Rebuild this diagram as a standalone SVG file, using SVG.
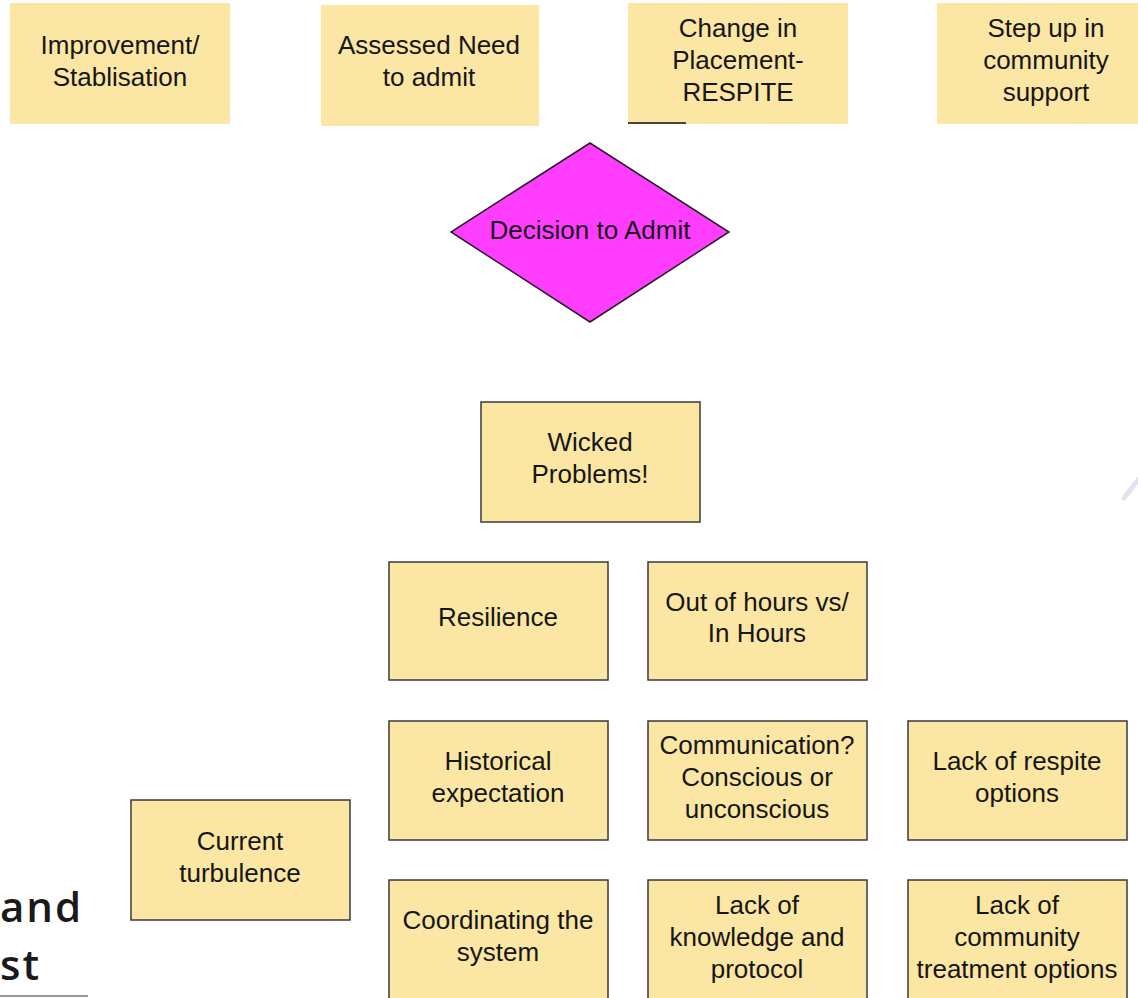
<svg xmlns="http://www.w3.org/2000/svg" width="1138" height="998" viewBox="0 0 1138 998">
  <style>
    .note { fill: #fbe6a3; }
    .box { fill: #fbe6a3; stroke: #3a3a3a; stroke-width: 1.5; }
    .decision { fill: #ff3dff; stroke: #2a1a2a; stroke-width: 1.5; }
    .label { font-family: "Liberation Sans", Arial, sans-serif; font-size: 26px; fill: #161616; text-anchor: middle; }
    .caption { font-family: "Open Sans", "DejaVu Sans", sans-serif; font-size: 42px; font-weight: 600; letter-spacing: 2px; fill: #1a1a1a; }
  </style>
  <rect width="1138" height="998" fill="#ffffff"/>

  <!-- outcome notes along the top -->
  <g id="improvement">
    <rect class="note" x="10" y="3" width="220" height="121"/>
    <text class="label" x="120" y="54">Improvement/</text>
    <text class="label" x="120" y="86">Stablisation</text>
  </g>
  <g id="assessed-need">
    <rect class="note" x="321" y="5" width="218" height="121"/>
    <text class="label" x="429" y="54">Assessed Need</text>
    <text class="label" x="429" y="86">to admit</text>
  </g>
  <g id="change-placement">
    <rect class="note" x="628" y="3" width="220" height="121"/>
    <line x1="628" y1="123" x2="686" y2="123" stroke="#444" stroke-width="2"/>
    <text class="label" x="738" y="37">Change in</text>
    <text class="label" x="738" y="69">Placement-</text>
    <text class="label" x="738" y="101">RESPITE</text>
  </g>
  <g id="step-up">
    <rect class="note" x="937" y="3" width="220" height="121"/>
    <text class="label" x="1046" y="37">Step up in</text>
    <text class="label" x="1046" y="69">community</text>
    <text class="label" x="1046" y="101">support</text>
  </g>

  <!-- central decision -->
  <g id="decision">
    <polygon class="decision" points="590,143 729,232 590,322 451,232"/>
    <text class="label" x="590" y="239">Decision to Admit</text>
  </g>

  <g id="wicked-problems">
    <rect class="box" x="481" y="402" width="219" height="120"/>
    <text class="label" x="590" y="451">Wicked</text>
    <text class="label" x="590" y="483">Problems!</text>
  </g>

  <g id="resilience">
    <rect class="box" x="389" y="562" width="219" height="118"/>
    <text class="label" x="498" y="626">Resilience</text>
  </g>
  <g id="out-of-hours">
    <rect class="box" x="648" y="562" width="219" height="118"/>
    <text class="label" x="757" y="611">Out of hours vs/</text>
    <text class="label" x="757" y="642">In Hours</text>
  </g>

  <g id="historical-expectation">
    <rect class="box" x="389" y="721" width="219" height="119"/>
    <text class="label" x="498" y="770">Historical</text>
    <text class="label" x="498" y="802">expectation</text>
  </g>
  <g id="communication">
    <rect class="box" x="648" y="721" width="219" height="119"/>
    <text class="label" x="757" y="754">Communication?</text>
    <text class="label" x="757" y="786">Conscious or</text>
    <text class="label" x="757" y="818">unconscious</text>
  </g>
  <g id="lack-respite">
    <rect class="box" x="908" y="721" width="219" height="119"/>
    <text class="label" x="1017" y="770">Lack of respite</text>
    <text class="label" x="1017" y="802">options</text>
  </g>

  <g id="current-turbulence">
    <rect class="box" x="131" y="800" width="219" height="120"/>
    <text class="label" x="240" y="850">Current</text>
    <text class="label" x="240" y="882">turbulence</text>
  </g>

  <g id="coordinating">
    <rect class="box" x="389" y="880" width="219" height="130"/>
    <text class="label" x="498" y="929">Coordinating the</text>
    <text class="label" x="498" y="961">system</text>
  </g>
  <g id="lack-knowledge">
    <rect class="box" x="648" y="880" width="219" height="130"/>
    <text class="label" x="757" y="914">Lack of</text>
    <text class="label" x="757" y="946">knowledge and</text>
    <text class="label" x="757" y="978">protocol</text>
  </g>
  <g id="lack-community">
    <rect class="box" x="908" y="880" width="219" height="130"/>
    <text class="label" x="1017" y="914">Lack of</text>
    <text class="label" x="1017" y="946">community</text>
    <text class="label" x="1017" y="978">treatment options</text>
  </g>

  <!-- partial caption at the lower left edge -->
  <g id="caption">
    <text class="caption" x="0" y="922">and</text>
    <text class="caption" x="0" y="980">st</text>
    <line x1="0" y1="996" x2="88" y2="996" stroke="#777" stroke-width="1.5"/>
  </g>

  <!-- faint stroke at the right edge -->
  <line x1="1138" y1="480" x2="1124" y2="498" stroke="#dcdcec" stroke-width="5" stroke-linecap="round" opacity="0.8"/>

  <g id="connectors"/>
</svg>
